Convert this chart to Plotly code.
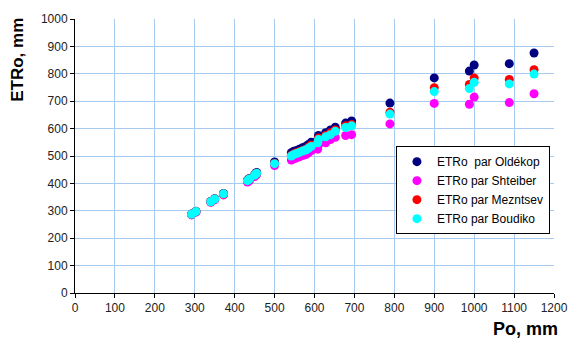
import plotly.graph_objects as go

po = [292, 303, 340, 350, 372, 432, 437, 450, 455, 500, 542, 548, 555, 562, 570, 578,
      585, 592, 608, 610, 628, 640, 652, 678, 693, 789, 900, 988, 1000, 1088, 1150]
oldekop = [288, 298, 334, 344, 363, 412, 418, 432, 440, 478, 512, 517, 520, 525, 530, 535,
           542, 550, 560, 575, 585, 595, 605, 620, 628, 693, 785, 810, 832, 837, 876]
shteiber = [285, 295, 331, 340, 358, 405, 410, 425, 432, 465, 485, 490, 493, 497, 502, 505,
            512, 520, 525, 540, 548, 560, 568, 575, 578, 617, 692, 689, 715, 695, 727]
mezntsev = [287, 297, 333, 343, 361, 410, 416, 430, 437, 473, 503, 508, 512, 516, 520, 525,
            532, 540, 552, 566, 575, 585, 595, 610, 615, 660, 749, 761, 785, 779, 815]
boudiko = [287, 297, 333, 343, 362, 410, 416, 430, 437, 472, 500, 505, 509, 513, 518, 522,
           528, 535, 548, 560, 570, 578, 590, 604, 610, 653, 735, 746, 769, 763, 799]

series = [
    ("ETRo  par Oldékop", oldekop, "#000080"),
    ("ETRo par Shteiber", shteiber, "#FF00FF"),
    ("ETRo par Mezntsev", mezntsev, "#FF0000"),
    ("ETRo par Boudiko", boudiko, "#00FFFF"),
]

fig = go.Figure()
for name, ys, col in series:
    fig.add_trace(go.Scatter(x=po, y=ys, mode="markers", name=name,
                             marker=dict(color=col, size=9, line=dict(width=0))))

axis_font = dict(family="Liberation Sans, Arial", size=12, color="#222222")
fig.update_layout(
    width=580, height=349,
    margin=dict(l=75, r=15, t=13, b=56),
    paper_bgcolor="white", plot_bgcolor="white",
    font=dict(family="Liberation Sans, Arial", size=12, color="#111111"),
    xaxis=dict(range=[0, 1200], dtick=100, tick0=0, showgrid=True, gridcolor="#A6CAF0",
               gridwidth=1, showline=True, linecolor="black", linewidth=1,
               ticks="outside", ticklen=4, tickcolor="black", tickfont=axis_font,
               zeroline=False, fixedrange=True),
    yaxis=dict(range=[0, 1000], dtick=100, tick0=0, showgrid=True, gridcolor="#A6CAF0",
               gridwidth=1, showline=True, linecolor="black", linewidth=1,
               ticks="outside", ticklen=4, tickcolor="black", tickfont=axis_font,
               zeroline=False, fixedrange=True),
    legend=dict(x=0.67, y=0.536, xanchor="left", yanchor="top",
                bgcolor="white", bordercolor="black", borderwidth=1,
                font=dict(family="Liberation Sans, Arial", size=12, color="black"),
                itemsizing="trace", itemwidth=30, tracegroupgap=0),
    showlegend=True,
    annotations=[
        dict(text="<b>ETRo, mm</b>", textangle=-90, xref="paper", yref="paper",
             x=-0.12, y=1.01, xanchor="center", yanchor="top", showarrow=False,
             font=dict(family="Liberation Sans, Arial", size=17, color="black")),
        dict(text="<b>Po, mm</b>", xref="paper", yref="paper",
             x=1.012, y=-0.088, xanchor="right", yanchor="top", showarrow=False,
             font=dict(family="Liberation Sans, Arial", size=18, color="black")),
    ],
)

fig.write_html("out.html")
